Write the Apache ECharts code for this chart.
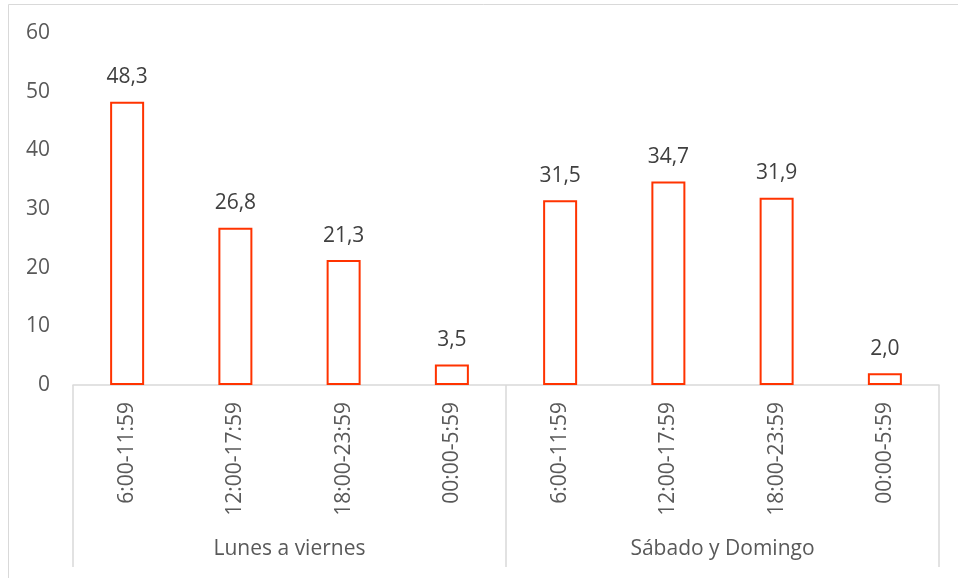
<!DOCTYPE html>
<html>
<head>
<meta charset="utf-8">
<script src="https://cdn.jsdelivr.net/npm/echarts@6/dist/echarts.min.js"></script>
<style>
html, body { margin: 0; padding: 0; background: #fff; }
#chart { width: 958px; height: 578px; }
</style>
</head>
<body>
<div id="chart"></div>
<script>
// franjas horarias (nivel interior del eje X)
var franjas = ['6:00-11:59', '12:00-17:59', '18:00-23:59', '00:00-5:59',
               '6:00-11:59', '12:00-17:59', '18:00-23:59', '00:00-5:59'];
// grupos (nivel exterior)
var grupos = ['Lunes a viernes', 'Sábado y Domingo'];
// porcentajes
var valores = [48.3, 26.8, 21.3, 3.5, 31.5, 34.7, 31.9, 2.0];
var yTicks = { min: 0, max: 60, interval: 10 };

var fuente = '"Open Sans", "Noto Sans", sans-serif';
var chart = echarts.init(document.getElementById('chart'));

var option = {
	animation: false,
	backgroundColor: '#fff',
	grid: { left: 73, right: 19, top: 33, bottom: 193, containLabel: false },
	graphic: [{
		type: 'rect',
		shape: { x: 8.5, y: 4.5, width: 980, height: 600 },
		style: { fill: 'none', stroke: '#d9d9d9', lineWidth: 1 },
		silent: true
	}],
	xAxis: [{
		type: 'category',
		data: franjas,
		position: 'bottom',
		axisLine: { show: false },
		axisTick: { show: false },
		axisLabel: {
			interval: 0,
			rotate: 90,
			margin: 17,
			fontFamily: fuente,
			fontSize: 21,
			color: '#595959'
		}
	}, {
		type: 'category',
		data: grupos,
		position: 'bottom',
		axisLine: { show: true, lineStyle: { color: '#d9d9d9', width: 1.5 } },
		axisTick: { show: true, length: 182, lineStyle: { color: '#d9d9d9', width: 1.5 } },
		axisLabel: {
			margin: 154,
			fontFamily: fuente,
			fontSize: 21,
			color: '#595959'
		}
	}],
	yAxis: {
		type: 'value',
		min: yTicks.min,
		max: yTicks.max,
		interval: yTicks.interval,
		axisLine: { show: false },
		axisTick: { show: false },
		splitLine: { show: false },
		axisLabel: {
			margin: 23,
			fontFamily: fuente,
			fontSize: 21,
			color: '#595959'
		}
	},
	series: [{
		type: 'bar',
		xAxisIndex: 0,
		data: valores,
		barWidth: 34,
		itemStyle: { color: '#ffffff', borderColor: '#ff3300', borderWidth: 2 },
		label: {
			show: true,
			position: 'top',
			distance: 14,
			fontFamily: fuente,
			fontSize: 21,
			color: '#404040',
			formatter: function (p) { return p.value.toFixed(1).replace('.', ','); }
		}
	}]
};
chart.setOption(option);
</script>
</body>
</html>
